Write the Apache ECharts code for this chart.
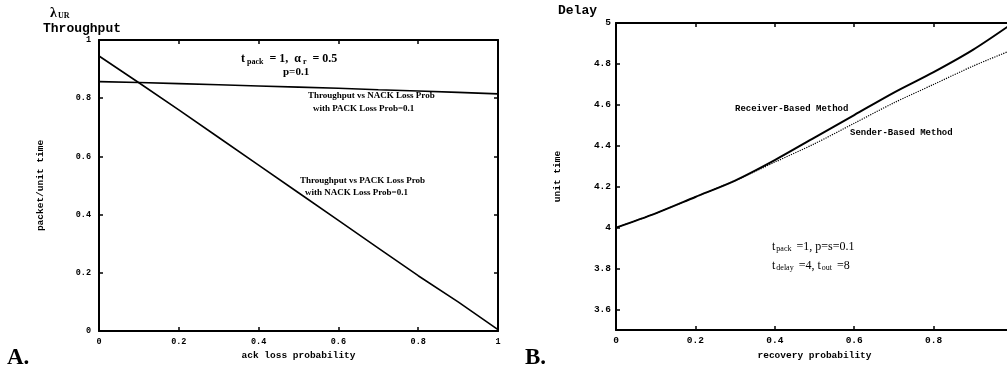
<!DOCTYPE html>
<html>
<head>
<meta charset="utf-8">
<script src="https://cdn.jsdelivr.net/npm/echarts@6/dist/echarts.min.js"></script>
<style>
  html, body { margin: 0; padding: 0; background: #fff; }
  #chart { width: 1007px; height: 373px; }
</style>
</head>
<body>
<div id="chart"></div>
<script>
// panel A: throughput vs ack loss probability
var ackLossProb = [0, 0.1, 0.2, 0.3, 0.4, 0.5, 0.6, 0.7, 0.8, 0.9, 1.0];
var thrVsNack = [0.857, 0.854, 0.850, 0.846, 0.842, 0.838, 0.834, 0.829, 0.825, 0.820, 0.815];
var thrVsPack = [0.945, 0.853, 0.760, 0.665, 0.570, 0.475, 0.380, 0.285, 0.190, 0.100, 0.005];

// panel B: delay vs recovery probability
var recoveryProb = [0, 0.1, 0.2, 0.3, 0.4, 0.5, 0.6, 0.7, 0.8, 0.9, 1.0];
var receiverDelay = [4.00, 4.07, 4.15, 4.23, 4.33, 4.44, 4.55, 4.66, 4.76, 4.87, 5.00];
var senderDelay = [4.00, 4.07, 4.15, 4.23, 4.32, 4.41, 4.51, 4.61, 4.70, 4.79, 4.87];
var delayTicks = [3.6, 3.8, 4, 4.2, 4.4, 4.6, 4.8, 5];

function pairs(xs, ys) {
    return xs.map(function (x, i) { return [x, ys[i]]; });
}

var mono = 'Liberation Mono';
var serif = 'Liberation Serif';

// main axis with labels, ticks pointing in
function mainAxis(gridIndex, pos, opts) {
    return Object.assign({
        type: 'value',
        gridIndex: gridIndex,
        position: pos,
        splitLine: { show: false },
        axisLine: { show: true, onZero: false, lineStyle: { color: '#000', width: 2 } },
        axisTick: { show: true, inside: true, length: 4, lineStyle: { color: '#000', width: 1.5 } },
        axisLabel: { color: '#000', fontFamily: mono, fontWeight: 'bold', fontSize: 8.5, margin: 6 },
        nameTextStyle: { color: '#000', fontFamily: mono, fontWeight: 'bold', fontSize: 9.5 }
    }, opts);
}

// mirror axis on top / right: line + ticks only
function mirrorAxis(gridIndex, pos, opts) {
    return Object.assign({
        type: 'value',
        gridIndex: gridIndex,
        position: pos,
        splitLine: { show: false },
        axisLine: { show: true, onZero: false, lineStyle: { color: '#000', width: 2 } },
        axisTick: { show: true, inside: true, length: 4, lineStyle: { color: '#000', width: 1.5 } },
        axisLabel: { show: false }
    }, opts);
}

var chart = echarts.init(document.getElementById('chart'));

chart.setOption({
    backgroundColor: '#fff',
    animation: false,
    grid: [
        { left: 99, top: 40, width: 399, height: 291, outerBoundsMode: 'none' },
        // right edge of panel B lies past the picture edge
        { left: 616, top: 23, width: 397, height: 307, outerBoundsMode: 'none' }
    ],
    xAxis: [
        mainAxis(0, 'bottom', {
            min: 0, max: 1, interval: 0.2,
            name: 'ack loss probability', nameLocation: 'middle', nameGap: 19
        }),
        mirrorAxis(0, 'top', { min: 0, max: 1, interval: 0.2 }),
        mainAxis(1, 'bottom', {
            min: 0, max: 1, interval: 0.2,
            name: 'recovery probability', nameLocation: 'middle', nameGap: 19,
            axisLabel: { color: '#000', fontFamily: mono, fontWeight: 'bold', fontSize: 9.5, margin: 6 }
        }),
        mirrorAxis(1, 'top', { min: 0, max: 1, interval: 0.2 })
    ],
    yAxis: [
        mainAxis(0, 'left', {
            min: 0, max: 1, interval: 0.2,
            name: 'packet/unit time', nameLocation: 'middle', nameGap: 53, nameRotate: 90,
            axisLabel: { color: '#000', fontFamily: mono, fontWeight: 'bold', fontSize: 8.5, margin: 8 }
        }),
        mirrorAxis(0, 'right', { min: 0, max: 1, interval: 0.2 }),
        mainAxis(1, 'left', {
            min: 3.5, max: 5,
            name: 'unit time', nameLocation: 'middle', nameGap: 53, nameRotate: 90,
            axisTick: { show: true, inside: true, length: 4, customValues: delayTicks, lineStyle: { color: '#000', width: 1.5 } },
            axisLabel: { color: '#000', fontFamily: mono, fontWeight: 'bold', fontSize: 9.5, margin: 5, customValues: delayTicks }
        }),
        mirrorAxis(1, 'right', {
            min: 3.5, max: 5,
            axisTick: { show: true, inside: true, length: 4, customValues: delayTicks, lineStyle: { color: '#000', width: 1.5 } }
        })
    ],
    series: [
        {
            name: 'Throughput vs NACK Loss Prob', type: 'line', xAxisIndex: 0, yAxisIndex: 0,
            symbol: 'none', data: pairs(ackLossProb, thrVsNack),
            lineStyle: { color: '#000', width: 1.6 }
        },
        {
            name: 'Throughput vs PACK Loss Prob', type: 'line', xAxisIndex: 0, yAxisIndex: 0,
            symbol: 'none', data: pairs(ackLossProb, thrVsPack),
            lineStyle: { color: '#000', width: 1.6 }
        },
        {
            name: 'Receiver-Based Method', type: 'line', xAxisIndex: 2, yAxisIndex: 2,
            symbol: 'none', smooth: 0.3, data: pairs(recoveryProb, receiverDelay),
            lineStyle: { color: '#000', width: 2 }
        },
        {
            name: 'Sender-Based Method', type: 'line', xAxisIndex: 2, yAxisIndex: 2,
            symbol: 'none', smooth: 0.3, data: pairs(recoveryProb, senderDelay),
            lineStyle: { color: '#000', width: 1.2, type: 'dotted' }
        }
    ],
    graphic: [
        // panel A titles
        {
            type: 'text', left: 50, top: 6,
            style: {
                text: '{l|λ}{s|UR}',
                rich: {
                    l: { fontFamily: serif, fontWeight: 'bold', fontSize: 14, fill: '#000' },
                    s: { fontFamily: serif, fontWeight: 'bold', fontSize: 8, fill: '#000', padding: [6, 0, 0, 1] }
                }
            }
        },
        { type: 'text', left: 43, top: 22, style: { text: 'Throughput', font: 'bold 13px ' + mono, fill: '#000' } },
        {
            type: 'text', left: 241, top: 53,
            style: {
                text: '{n|t}{s|pack}{n| = 1,  α}{s|r}{n| = 0.5}',
                rich: {
                    n: { fontFamily: serif, fontWeight: 'bold', fontSize: 12, fill: '#000' },
                    s: { fontFamily: serif, fontWeight: 'bold', fontSize: 8, fill: '#000', padding: [5, 3, 0, 2] }
                }
            }
        },
        { type: 'text', left: 283, top: 67, style: { text: 'p=0.1', font: 'bold 11px ' + serif, fill: '#000' } },
        { type: 'text', left: 308, top: 91, style: { text: 'Throughput vs NACK Loss Prob', font: 'bold 9px ' + serif, fill: '#000' } },
        { type: 'text', left: 313, top: 104, style: { text: 'with PACK Loss Prob=0.1', font: 'bold 9px ' + serif, fill: '#000' } },
        { type: 'text', left: 300, top: 176, style: { text: 'Throughput vs PACK Loss Prob', font: 'bold 9px ' + serif, fill: '#000' } },
        { type: 'text', left: 305, top: 188, style: { text: 'with NACK Loss Prob=0.1', font: 'bold 9px ' + serif, fill: '#000' } },
        { type: 'text', left: 7, top: 347, style: { text: 'A.', font: 'bold 23px ' + serif, fill: '#000' } },
        // panel B titles
        { type: 'text', left: 558, top: 4, style: { text: 'Delay', font: 'bold 13px ' + mono, fill: '#000' } },
        { type: 'text', left: 735, top: 104, style: { text: 'Receiver-Based Method', font: 'bold 9px ' + mono, fill: '#000' } },
        { type: 'text', left: 850, top: 128, style: { text: 'Sender-Based Method', font: 'bold 9px ' + mono, fill: '#000' } },
        {
            type: 'text', left: 772, top: 241,
            style: {
                text: '{n|t}{s|pack}{n| =1, p=s=0.1}',
                rich: {
                    n: { fontFamily: serif, fontSize: 12, fill: '#000' },
                    s: { fontFamily: serif, fontSize: 8, fill: '#000', padding: [4, 2, 0, 1] }
                }
            }
        },
        {
            type: 'text', left: 772, top: 260,
            style: {
                text: '{n|t}{s|delay}{n| =4, t}{s|out}{n| =8}',
                rich: {
                    n: { fontFamily: serif, fontSize: 12, fill: '#000' },
                    s: { fontFamily: serif, fontSize: 8, fill: '#000', padding: [4, 2, 0, 1] }
                }
            }
        },
        { type: 'text', left: 525, top: 347, style: { text: 'B.', font: 'bold 23px ' + serif, fill: '#000' } }
    ]
});
</script>
</body>
</html>
